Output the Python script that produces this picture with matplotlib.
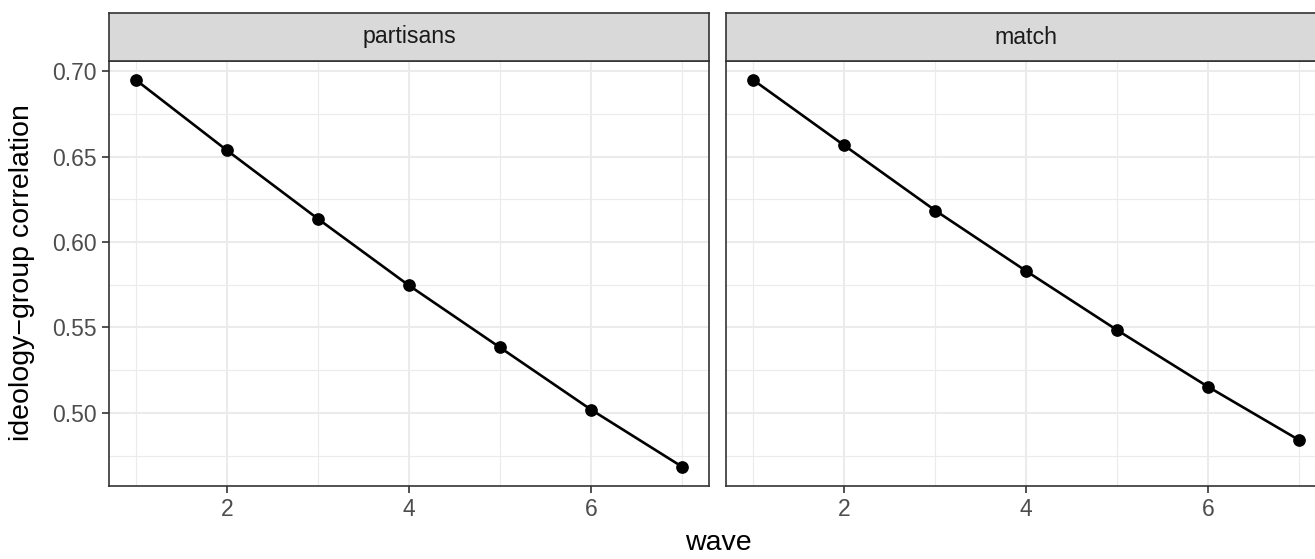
import matplotlib
matplotlib.use("Agg")
import matplotlib.pyplot as plt
from matplotlib.ticker import MultipleLocator

plt.rcParams['font.family'] = ['Liberation Sans', 'DejaVu Sans']

# data
waves = [1, 2, 3, 4, 5, 6, 7]
panels = ["partisans", "match"]
partisans_corr = [0.6949, 0.6537, 0.6136, 0.5746, 0.5383, 0.5019, 0.4685]
match_corr = [0.6949, 0.6566, 0.6185, 0.5830, 0.5484, 0.5152, 0.4840]
series = [partisans_corr, match_corr]

x_ticks = [2, 4, 6]
y_ticks = [0.50, 0.55, 0.60, 0.65, 0.70]

W, H = 1315, 559
fig = plt.figure(figsize=(W / 100, H / 100), dpi=100)

# panel boxes in pixels (left, top, right, bottom)
panel_px = [(108.7, 60.7, 709.3, 486.0), (726.0, 60.7, 1326.6, 486.0)]
strip_top = 13.3

all_vals = partisans_corr + match_corr
lo, hi = min(all_vals), max(all_vals)
pad = (hi - lo) * 0.05
ylim = (lo - pad, hi + pad)
xlim = (min(waves) - 0.3, max(waves) + 0.3)

border = "#333333"
for i, (name, vals) in enumerate(zip(panels, series)):
    l, t, r, b = panel_px[i]
    ax = fig.add_axes([l / W, 1 - b / H, (r - l) / W, (b - t) / H])
    ax.set_xlim(*xlim)
    ax.set_ylim(*ylim)
    ax.set_xticks(x_ticks)
    ax.set_yticks(y_ticks)
    ax.xaxis.set_minor_locator(MultipleLocator(1))
    ax.yaxis.set_minor_locator(MultipleLocator(0.025))
    ax.grid(True, which="major", color="#EBEBEB", lw=1.5, zorder=0)
    ax.grid(True, which="minor", color="#EBEBEB", lw=0.8, zorder=0)
    ax.set_axisbelow(True)
    ax.tick_params(which="minor", length=0)
    ax.tick_params(which="major", length=5, width=1.2, color=border,
                   labelcolor="#4D4D4D", labelsize=16.5, pad=3.5)
    for s in ax.spines.values():
        s.set_color(border)
        s.set_linewidth(1.2)
    if i == 0:
        ax.yaxis.set_major_formatter(plt.FormatStrFormatter("%.2f"))
    else:
        ax.tick_params(axis="y", left=False, labelleft=False)

    ax.plot(waves, vals, color="black", lw=1.9, zorder=3, clip_on=False)
    ax.scatter(waves, vals, s=66, color="black", zorder=4, clip_on=False)

    # facet strip
    sax = fig.add_axes([l / W, 1 - t / H, (r - l) / W, (t - strip_top) / H])
    sax.set_facecolor("#D9D9D9")
    sax.set_xticks([])
    sax.set_yticks([])
    for s in sax.spines.values():
        s.set_color(border)
        s.set_linewidth(1.2)
    sax.text(0.5, 0.5, name, ha="center", va="center", fontsize=16.7,
             color="#1A1A1A", transform=sax.transAxes)

fig.text(718 / W, 1 - 543 / H, "wave", ha="center", va="center", fontsize=20.5)
fig.text(22 / W, 1 - 273 / H, "ideology\u2212group correlation", ha="center",
         va="center", rotation=90, fontsize=20.5)

fig.savefig("out.png", dpi=100)
